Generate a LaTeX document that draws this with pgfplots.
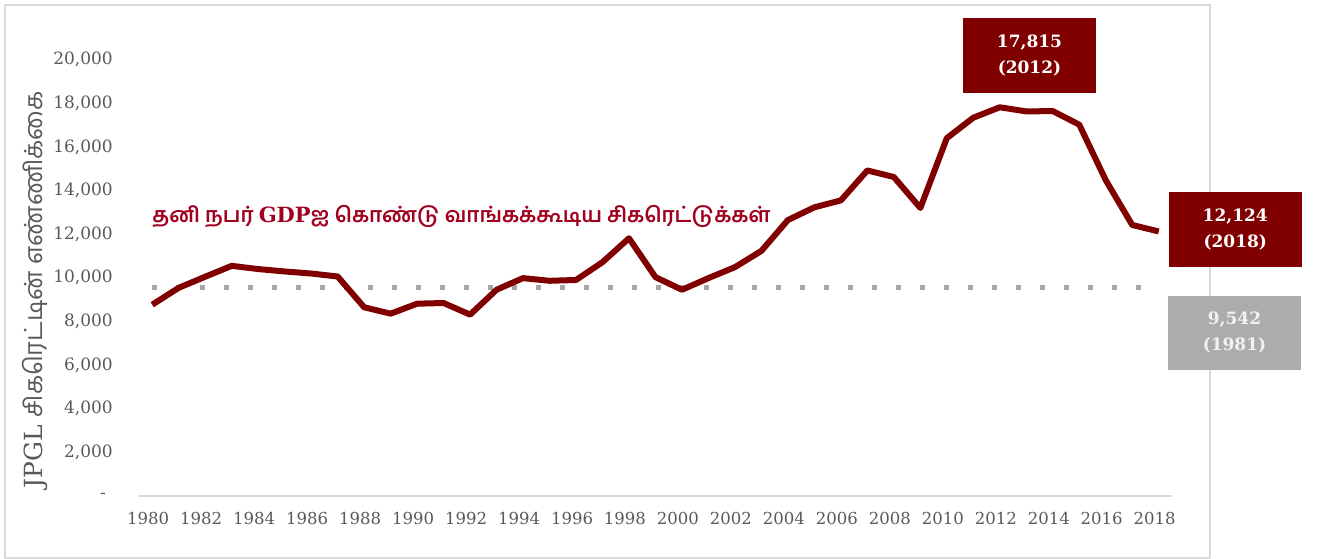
\documentclass[border=0pt]{standalone}
\usepackage{pgfplots}
\pgfplotsset{compat=1.18}
\usepackage{fontspec}
\setmainfont{DejaVu Serif}
\newfontfamily\tamil[Script=Tamil]{Hind Madurai}
\definecolor{darkred}{RGB}{128,0,0}
\definecolor{tamred}{RGB}{160,0,30}
\definecolor{lblgray}{RGB}{89,89,89}
\definecolor{framegray}{RGB}{217,217,217}
\definecolor{dotgray}{RGB}{166,166,166}
\definecolor{boxgray}{RGB}{173,172,170}
\begin{document}
\begin{tikzpicture}
\useasboundingbox (0,0) rectangle (1318pt,-559pt);
\draw[framegray, line width=1.5pt] (5pt,-5pt) rectangle (1210pt,-558pt);
\begin{axis}[
  at={(139pt,-496pt)}, anchor=south west,
  scale only axis, width=1033pt, height=436.4pt,
  xmin=1979.5, xmax=2018.5, ymin=0, ymax=20000,
  clip=false,
  scaled y ticks=false, scaled x ticks=false,
  axis lines*=left,
  x axis line style={draw=framegray, line width=1.5pt, -},
  y axis line style={draw=none},
  tick style={draw=none},
  xtick={1980,1982,...,2018},
  xticklabels={1980,1982,1984,1986,1988,1990,1992,1994,1996,1998,2000,2002,2004,2006,2008,2010,2012,2014,2016,2018},
  ytick={0,2000,...,20000},
  yticklabels={{-\hspace*{7pt}},{2,000},{4,000},{6,000},{8,000},{10,000},{12,000},{14,000},{16,000},{18,000},{20,000}},
  xticklabel style={font=\fontsize{16.5}{19}\selectfont, text=lblgray, inner sep=0pt, anchor=north, yshift=-16pt, xshift=-4pt},
  yticklabel style={font=\fontsize{17}{19}\selectfont, text=lblgray, inner sep=0pt, anchor=east, xshift=-26pt},
]
\addplot[dotgray, line width=5pt, line cap=butt, dash pattern=on 5pt off 19pt] coordinates {(1980,9542) (2018,9542)};
\addplot[darkred, line width=6pt, line join=round, line cap=butt] coordinates {
(1980,8767) (1981,9542) (1982,10050) (1983,10548) (1984,10400) (1985,10290)
(1986,10196) (1987,10060) (1988,8650) (1989,8356) (1990,8813) (1991,8845)
(1992,8311) (1993,9452) (1994,9986) (1995,9863) (1996,9900) (1997,10717)
(1998,11813) (1999,10030) (2000,9452) (2001,9986) (2002,10489) (2003,11233)
(2004,12648) (2005,13230) (2006,13548) (2007,14920) (2008,14618) (2009,13200)
(2010,16400) (2011,17338) (2012,17815) (2013,17626) (2014,17640) (2015,17018)
(2016,14475) (2017,12420) (2018,12124)};
\node[anchor=west, text=tamred, inner sep=0pt, font=\tamil\bfseries\fontsize{21}{24}\selectfont] at (axis cs:1980,12787) {தனி நபர் {\rmfamily\bfseries GDP}ஐ கொண்டு வாங்கக்கூடிய சிகரெட்டுக்கள்};
\node[fill=darkred, text=white, minimum width=133pt, minimum height=75pt, align=center, inner sep=0pt, font=\bfseries\fontsize{17}{26}\selectfont] at (axis cs:2013.12,20188) {17,815\\(2012)};
\node[fill=darkred, text=white, minimum width=133pt, minimum height=75pt, align=center, inner sep=0pt, font=\bfseries\fontsize{17}{26}\selectfont] at (axis cs:2020.89,12214) {12,124\\(2018)};
\node[fill=boxgray, text={rgb,255:red,242;green,242;blue,242}, minimum width=133pt, minimum height=74pt, align=center, inner sep=0pt, font=\bfseries\fontsize{17}{26}\selectfont] at (axis cs:2020.86,7470) {9,542\\(1981)};
\end{axis}
\node[rotate=90, text=lblgray, inner sep=0pt, font=\fontsize{25}{28}\selectfont] at (35pt,-290pt) {JPGL {\tamil சிகரெட்டின் எண்ணிக்கை}};
\end{tikzpicture}
\end{document}
